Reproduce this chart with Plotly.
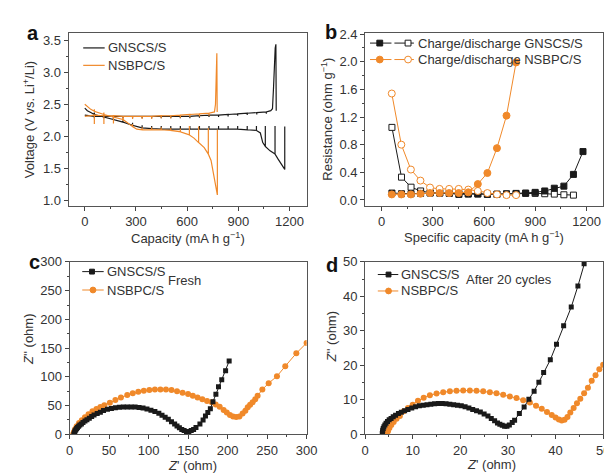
import plotly.graph_objects as go

W, H = 612, 474
BLACK = '#1a1a1a'
ORANGE = '#f0892a'
TXT = '#333333'
AXC = '#555555'
FONT = 'Liberation Sans, Arial, sans-serif'

# ---------------- Panel a: GITT voltage profiles ----------------
gnscs_dis_cap = [0, 15, 35,
                 56, 56, 56, 112, 112, 112, 168, 168, 168, 224, 224, 224, 280, 280, 280,
                 336, 336, 336, 392, 392, 392, 448, 448, 448, 504, 504, 504, 560, 560, 560,
                 616, 616, 616, 672, 672, 672, 728, 728, 728, 784, 784, 784, 840, 840, 840,
                 896, 896, 896, 952, 952, 952, 1006, 1006, 1006, 1029, 1043,
                 1058, 1058, 1058, 1086, 1115, 1115, 1115, 1133, 1152, 1172, 1172]
gnscs_dis_v = [2.44, 2.40, 2.37,
               2.34, 2.37, 2.34, 2.30, 2.33, 2.30, 2.26, 2.29, 2.26, 2.22, 2.25, 2.22, 2.17, 2.21, 2.17,
               2.13, 2.17, 2.13, 2.12, 2.16, 2.12, 2.11, 2.16, 2.11, 2.11, 2.16, 2.11, 2.11, 2.16, 2.11,
               2.11, 2.16, 2.11, 2.11, 2.16, 2.11, 2.11, 2.16, 2.11, 2.11, 2.16, 2.11, 2.11, 2.16, 2.11,
               2.11, 2.16, 2.11, 2.10, 2.16, 2.10, 2.09, 2.16, 2.09, 2.05, 1.90,
               1.84, 2.16, 1.84, 1.77, 1.72, 2.16, 1.72, 1.64, 1.56, 1.48, 2.15]

gnscs_chg_cap = [0,
                 56, 56, 56, 112, 112, 112, 168, 168, 168, 224, 224, 224, 280, 280, 280,
                 336, 336, 336, 392, 392, 392, 448, 448, 448, 504, 504, 504, 560, 560, 560,
                 616, 616, 616, 672, 672, 672, 728, 728, 728, 784, 784, 784, 840, 840, 840,
                 896, 896, 896, 952, 952, 952, 1008, 1008, 1008, 1064, 1064, 1064,
                 1090, 1100, 1106, 1111, 1116, 1120, 1122]
gnscs_chg_v = [2.33,
               2.31, 2.28, 2.31, 2.31, 2.28, 2.31, 2.31, 2.28, 2.31, 2.31, 2.28, 2.31, 2.31, 2.28, 2.31,
               2.31, 2.28, 2.31, 2.31, 2.28, 2.31, 2.31, 2.28, 2.31, 2.31, 2.28, 2.31, 2.31, 2.28, 2.31,
               2.31, 2.28, 2.31, 2.32, 2.29, 2.32, 2.33, 2.30, 2.33, 2.33, 2.30, 2.33, 2.34, 2.31, 2.34,
               2.35, 2.32, 2.35, 2.36, 2.33, 2.36, 2.37, 2.34, 2.37, 2.38, 2.35, 2.38,
               2.40, 2.43, 2.75, 3.15, 3.38, 3.44, 2.40]

nsbpc_dis_cap = [0, 15, 35,
                 56, 56, 56, 112, 112, 112, 168, 168, 168, 224, 224, 224, 250,
                 280, 280, 280, 305, 336, 336, 336, 392, 392, 392, 448, 448, 448,
                 504, 504, 504, 560, 560, 560, 613, 613, 613, 640, 667, 667, 667,
                 700, 724, 724, 724, 740, 752, 765, 777, 777]
nsbpc_dis_v = [2.50, 2.46, 2.42,
               2.39, 2.42, 2.39, 2.34, 2.37, 2.34, 2.30, 2.33, 2.30, 2.26, 2.29, 2.26, 2.21,
               2.15, 2.19, 2.15, 2.11, 2.10, 2.14, 2.10, 2.10, 2.14, 2.10, 2.10, 2.14, 2.10,
               2.09, 2.13, 2.09, 2.07, 2.12, 2.07, 2.02, 2.16, 2.02, 1.97, 1.90, 2.15, 1.90,
               1.82, 1.72, 2.13, 1.72, 1.62, 1.44, 1.28, 1.08, 2.10]

nsbpc_chg_cap = [0,
                 56, 56, 56, 112, 112, 112, 168, 168, 168, 224, 224, 224, 280, 280, 280,
                 336, 336, 336, 392, 392, 392, 448, 448, 448, 504, 504, 504, 560, 560, 560,
                 616, 616, 616, 672, 672, 672, 728, 728, 728, 760, 766, 770, 774, 776]
nsbpc_chg_v = [2.31,
               2.33, 2.19, 2.33, 2.32, 2.19, 2.32, 2.32, 2.20, 2.32, 2.31, 2.24, 2.31, 2.31, 2.27, 2.31,
               2.31, 2.27, 2.31, 2.31, 2.27, 2.31, 2.32, 2.28, 2.32, 2.32, 2.28, 2.32, 2.33, 2.29, 2.33,
               2.34, 2.30, 2.34, 2.35, 2.31, 2.35, 2.36, 2.32, 2.36, 2.38, 2.50, 2.90, 3.30, 2.38]

# ---------------- Panel b: resistance ----------------
gnscs_chg_res_cap = [60, 116, 172, 228, 284, 340, 396, 452, 507, 563, 619, 675, 731, 787,
                     843, 899, 955, 1011, 1067, 1123]
gnscs_chg_res = [1.05, 0.33, 0.185, 0.13, 0.105, 0.10, 0.10, 0.095, 0.09, 0.09, 0.085, 0.085,
                 0.09, 0.09, 0.095, 0.095, 0.09, 0.085, 0.075, 0.07]
gnscs_dis_res_cap = [60, 116, 172, 228, 284, 340, 396, 452, 507, 563, 619, 675, 731, 787,
                     843, 899, 955, 1011, 1067, 1123, 1179]
gnscs_dis_res = [0.10, 0.09, 0.09, 0.095, 0.10, 0.10, 0.095, 0.08, 0.085, 0.085, 0.08, 0.08,
                 0.085, 0.095, 0.10, 0.11, 0.13, 0.17, 0.20, 0.37, 0.70]
nsbpc_res_cap = [59, 115, 171, 227, 283, 339, 395, 451, 507, 563, 619, 675, 731, 787]
nsbpc_chg_res = [1.54, 0.80, 0.44, 0.28, 0.18, 0.16, 0.16, 0.16, 0.15, 0.13, 0.10, 0.08, 0.07, 0.07]
nsbpc_dis_res = [0.08, 0.08, 0.08, 0.09, 0.10, 0.10, 0.10, 0.10, 0.11, 0.23, 0.39, 0.75, 1.22, 1.99]

# ---------------- Panel c: EIS fresh ----------------
gn_fresh_re = [5.5, 6, 6.5, 7, 8, 9, 10, 11.5, 13, 15, 17, 19.5, 22, 25, 28, 31, 35, 39, 43, 48,
               53, 58, 63, 68, 73, 78, 83, 88, 93, 98, 103, 108, 113, 117, 121, 125, 129, 133, 136, 139,
               142, 145, 148, 151, 154, 157, 160, 165, 169, 172, 175, 178.2, 181.5, 185.2, 188.5,
               192.6, 197.5, 202]
gn_fresh_im = [0, 2, 4, 6, 8, 10, 12, 14, 16, 18, 20.5, 23, 25.5, 28, 31, 33.5, 36, 38.5, 41.5, 43.5,
               45, 46.2, 47, 47.5, 47.7, 47.7, 47.3, 46.7, 45.7, 44, 42, 39.5, 36.5, 33, 29.5, 26, 22, 18,
               14.5, 11.5, 8.5, 6.5, 5, 5, 6.5, 8.5, 12, 18, 25, 32, 38, 44.4, 56.7, 69.7, 82.6, 95,
               110.7, 127.5]
ns_fresh_re = [4.5, 5.5, 7, 9, 12, 15.5, 19.5, 24, 29, 34, 39, 44, 51, 58, 65, 73, 80, 87, 94, 101,
               108, 115, 122, 129, 136, 143, 150, 156, 162, 168, 174, 180, 185, 190, 195, 199, 203, 207,
               211, 215, 219, 222.5, 225.5, 228.5, 231.7, 235, 238, 244, 252, 262.5, 273, 287, 300, 312]
ns_fresh_im = [0, 4, 9, 14, 19.5, 24.5, 29.5, 35, 40, 44, 47.5, 50.5, 55, 59.5, 64, 68.5, 71.5, 74,
               76, 77, 78, 78, 78, 77, 75, 72.5, 70, 67, 64, 61, 58, 55.6, 52, 48, 42.5, 38, 33.5, 31,
               30, 31, 36, 41, 47, 51.5, 55.6, 61, 67, 78, 89, 101, 118.5, 141, 159, 177]

# ---------------- Panel d: EIS after 20 cycles ----------------
gn_cyc_re = [3.6, 3.65, 3.7, 3.8, 3.95, 4.15, 4.4, 4.7, 5.05, 5.45, 5.9, 6.4, 7.0, 7.6, 8.3, 9.0,
             9.8, 10.6, 11.4, 12.2, 13.0, 13.8, 14.6, 15.4, 16.2, 17.0, 17.8, 18.6, 19.4, 20.2, 21.0,
             21.8, 22.6, 23.4, 24.2, 25.0, 25.8, 26.5, 27.2, 27.8, 28.3, 28.8, 29.3, 29.8, 30.3, 30.9,
             31.4, 32.4, 33.4, 34.4, 35.5, 36.5, 37.5, 38.9, 40.2, 41.7, 43.3, 44.7, 46.0, 47.2]
gn_cyc_im = [0.2, 0.7, 1.2, 1.7, 2.2, 2.7, 3.2, 3.7, 4.2, 4.6, 5.1, 5.5, 6.0, 6.4, 6.8, 7.2, 7.6,
             8.0, 8.25, 8.45, 8.6, 8.75, 8.85, 8.9, 8.9, 8.85, 8.75, 8.6, 8.45, 8.25, 8.0, 7.6, 7.2,
             6.85, 6.5, 5.9, 5.3, 4.6, 3.9, 3.3, 2.9, 2.6, 2.3, 2.3, 2.7, 3.4, 4.1, 6.0, 7.9, 10.2,
             12.5, 15.1, 17.9, 21.6, 26.1, 31.5, 36.9, 43.0, 49.5, 55.0]
ns_cyc_re = [4.6, 4.8, 5.1, 5.5, 6.0, 6.6, 7.3, 8.1, 9.0, 10.0, 11.1, 12.3, 13.6, 15.0, 16.4, 17.8,
             19.2, 20.6, 22.0, 23.4, 24.8, 26.2, 27.6, 29.0, 30.4, 31.8, 33.2, 34.6, 35.9, 37.1, 38.2,
             39.2, 40.0, 40.7, 41.3, 41.9, 42.5, 43.1, 43.8, 44.5, 45.2, 46.0, 46.8, 47.6, 48.4, 49.2,
             50.0, 51.0]
ns_cyc_im = [0.0, 0.9, 1.8, 2.7, 3.6, 4.5, 5.3, 6.7, 7.6, 8.6, 9.7, 10.6, 11.3, 11.8, 12.2, 12.5,
             12.6, 12.7, 12.7, 12.6, 12.5, 12.2, 11.9, 11.5, 11.0, 10.5, 9.9, 9.2, 8.3, 7.4, 6.5, 5.6,
             4.9, 4.3, 4.0, 4.2, 5.0, 6.3, 7.6, 9.0, 10.3, 11.9, 13.5, 15.5, 17.1, 18.9, 20.2, 22.0]

for a_, b_ in [(gnscs_dis_cap, gnscs_dis_v), (gnscs_chg_cap, gnscs_chg_v),
               (nsbpc_dis_cap, nsbpc_dis_v), (nsbpc_chg_cap, nsbpc_chg_v),
               (gnscs_chg_res_cap, gnscs_chg_res), (gnscs_dis_res_cap, gnscs_dis_res),
               (nsbpc_res_cap, nsbpc_chg_res), (nsbpc_res_cap, nsbpc_dis_res),
               (gn_fresh_re, gn_fresh_im), (ns_fresh_re, ns_fresh_im),
               (gn_cyc_re, gn_cyc_im), (ns_cyc_re, ns_cyc_im)]:
    assert len(a_) == len(b_), (len(a_), len(b_))


def px(x):
    return x / W


def py(y):
    return 1 - y / H


fig = go.Figure()

# panel a traces
for cx, cy, col in [(gnscs_dis_cap, gnscs_dis_v, BLACK), (gnscs_chg_cap, gnscs_chg_v, BLACK),
                    (nsbpc_dis_cap, nsbpc_dis_v, ORANGE), (nsbpc_chg_cap, nsbpc_chg_v, ORANGE)]:
    fig.add_trace(go.Scatter(x=cx, y=cy, mode='lines', line=dict(color=col, width=1.2),
                             xaxis='x', yaxis='y', showlegend=False, hoverinfo='skip'))


# panel b traces
def mk(symbol, color, fill, size):
    return dict(symbol=symbol, size=size, color=fill, line=dict(color=color, width=1))


fig.add_trace(go.Scatter(x=gnscs_chg_res_cap, y=gnscs_chg_res, mode='lines+markers',
                         line=dict(color=BLACK, width=1), marker=mk('square', BLACK, 'white', 6),
                         xaxis='x2', yaxis='y2', showlegend=False))
fig.add_trace(go.Scatter(x=gnscs_dis_res_cap, y=gnscs_dis_res, mode='lines+markers',
                         line=dict(color=BLACK, width=1), marker=mk('square', BLACK, BLACK, 6),
                         xaxis='x2', yaxis='y2', showlegend=False))
fig.add_trace(go.Scatter(x=nsbpc_res_cap, y=nsbpc_chg_res, mode='lines+markers',
                         line=dict(color=ORANGE, width=1), marker=mk('circle', ORANGE, 'white', 7),
                         xaxis='x2', yaxis='y2', showlegend=False))
fig.add_trace(go.Scatter(x=nsbpc_res_cap, y=nsbpc_dis_res, mode='lines+markers',
                         line=dict(color=ORANGE, width=1), marker=mk('circle', ORANGE, ORANGE, 7),
                         xaxis='x2', yaxis='y2', showlegend=False))

# panel c / d traces
for xa, ya, gx, gy, nx, ny in [('x3', 'y3', gn_fresh_re, gn_fresh_im, ns_fresh_re, ns_fresh_im),
                               ('x4', 'y4', gn_cyc_re, gn_cyc_im, ns_cyc_re, ns_cyc_im)]:
    fig.add_trace(go.Scatter(x=nx, y=ny, mode='lines+markers', line=dict(color=ORANGE, width=1),
                             marker=dict(symbol='circle', size=6, color=ORANGE),
                             xaxis=xa, yaxis=ya, showlegend=False))
    fig.add_trace(go.Scatter(x=gx, y=gy, mode='lines+markers', line=dict(color=BLACK, width=1),
                             marker=dict(symbol='square', size=5, color=BLACK),
                             xaxis=xa, yaxis=ya, showlegend=False))


def axis(domain, rng, tick0, dtick, mdtick, anchor, fmt=None):
    d = dict(domain=domain, range=rng, anchor=anchor, tickmode='linear', tick0=tick0, dtick=dtick,
             ticks='outside', ticklen=4, tickwidth=1, tickcolor='#444',
             showline=True, linecolor=AXC, linewidth=1, mirror=True,
             showgrid=False, zeroline=False,
             tickfont=dict(family=FONT, size=13, color=TXT),
             minor=dict(ticks='outside', ticklen=2, tickwidth=1, tickcolor='#444',
                        tick0=tick0, dtick=mdtick, showgrid=False))
    if fmt:
        d['tickformat'] = fmt
    return d


top_y = [py(197), py(19)]
bot_y = [py(433), py(255)]
left_x = [px(58), px(302)]
right_x = [px(362), px(606)]

fig.update_layout(
    width=W, height=H, margin=dict(l=0, r=0, t=0, b=0),
    paper_bgcolor='white', plot_bgcolor='white', showlegend=False,
    font=dict(family=FONT, size=13, color=TXT),
    xaxis=axis(left_x, [-95, 1300], 0, 300, 150, 'y'),
    yaxis=axis(top_y, [0.91, 3.61], 1.0, 0.5, 0.25, 'x', '.1f'),
    xaxis2=axis(right_x, [-97, 1297], 0, 300, 150, 'y2'),
    yaxis2=axis(top_y, [-0.084, 2.41], 0, 0.4, 0.2, 'x2', '.1f'),
    xaxis3=axis([px(59), px(302)], [0, 300], 0, 50, 25, 'y3'),
    yaxis3=axis(bot_y, [0, 300], 0, 50, 25, 'x3'),
    xaxis4=axis(right_x, [0, 50], 0, 10, 5, 'y4'),
    yaxis4=axis(bot_y, [0, 50], 0, 10, 5, 'x4'),
)

ann = []
shapes = []


def text(x, y, s, size=13, xanchor='left', angle=0, bold=False, color=TXT):
    if bold:
        s = '<b>' + s + '</b>'
    ann.append(dict(x=px(x), y=py(y), xref='paper', yref='paper', text=s, showarrow=False,
                    xanchor=xanchor, yanchor='middle', textangle=angle,
                    font=dict(family=FONT, size=size, color=color)))


def hline(x0, x1, y, color, width=1.2):
    shapes.append(dict(type='line', xref='paper', yref='paper', x0=px(x0), x1=px(x1),
                       y0=py(y), y1=py(y), line=dict(color=color, width=width)))


def marker(kind, cx, cy, s, edge, fill):
    shapes.append(dict(type=kind, xref='paper', yref='paper', x0=px(cx - s / 2), x1=px(cx + s / 2),
                       y0=py(cy + s / 2), y1=py(cy - s / 2), line=dict(color=edge, width=1),
                       fillcolor=fill))


# panel letters
text(22, 19, 'a', 20, 'center', bold=True, color='#111')
text(327, 18, 'b', 20, 'center', bold=True, color='#111')
text(23, 255, 'c', 20, 'center', bold=True, color='#111')
text(328, 258, 'd', 20, 'center', bold=True, color='#111')

# axis titles
text(17, 108, 'Voltage (V vs. Li<sup>+</sup>/Li)', 13, 'center', angle=-90)
text(180, 230, 'Capacity (mA h g<sup>\u22121</sup>)', 13, 'center')
text(322, 108, 'Resistance (ohm g<sup>\u22121</sup>)', 13, 'center', angle=-90)
text(484, 229, 'Specific capacity (mA h g<sup>\u22121</sup>)', 13, 'center')
text(17, 335, '<i>Z</i>\'\' (ohm)', 13, 'center', angle=-90)
text(185, 465, '<i>Z</i>\' (ohm)', 13, 'center')
text(328, 332, '<i>Z</i>\'\' (ohm)', 13, 'center', angle=-90)
text(492, 464, '<i>Z</i>\' (ohm)', 13, 'center')

# legend a
hline(73, 95, 34, BLACK)
text(96, 34, 'GNSCS/S')
hline(73, 95, 52, ORANGE)
text(96, 52, 'NSBPC/S')

# legend b
hline(367, 389, 29, BLACK, 1)
hline(392, 412, 29, BLACK, 1)
marker('rect', 377, 29, 6, BLACK, BLACK)
marker('rect', 406, 29, 6, BLACK, 'white')
text(414, 29, 'Charge/discharge GNSCS/S')
hline(367, 389, 46, ORANGE, 1)
hline(392, 412, 46, ORANGE, 1)
marker('circle', 377, 46, 7, ORANGE, ORANGE)
marker('circle', 406, 46, 7, ORANGE, 'white')
text(414, 46, 'Charge/discharge NSBPC/S')

# legend c
hline(72, 94, 265, BLACK, 1)
marker('rect', 82, 265, 5, BLACK, BLACK)
text(95, 265, 'GNSCS/S')
hline(72, 94, 284, ORANGE, 1)
marker('circle', 83, 284, 6, ORANGE, ORANGE)
text(95, 284, 'NSBPC/S')
text(158, 274, 'Fresh')

# legend d
hline(375, 396, 268, BLACK, 1)
marker('rect', 386, 268, 5, BLACK, BLACK)
text(397, 268, 'GNSCS/S')
hline(375, 396, 285, ORANGE, 1)
marker('circle', 386, 285, 6, ORANGE, ORANGE)
text(397, 285, 'NSBPC/S')
text(463, 273, 'After 20 cycles')

fig.update_layout(annotations=ann, shapes=shapes)
fig.write_html('out.html')
